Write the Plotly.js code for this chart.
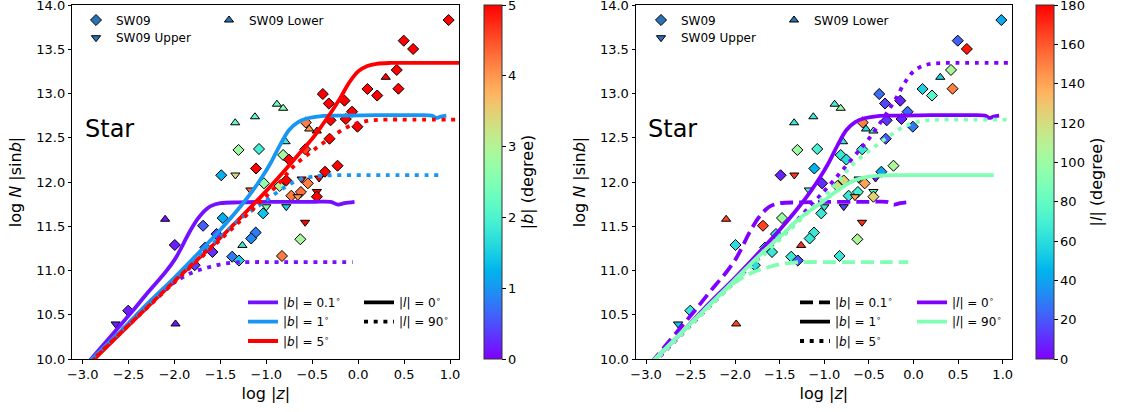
<!DOCTYPE html>
<html>
<head>
<meta charset="utf-8">
<script src="https://cdn.plot.ly/plotly-3.0.1.min.js"></script>
<style>
  html, body { margin: 0; padding: 0; background: #ffffff; }
  #chart { width: 1122px; height: 412px; }
</style>
</head>
<body>
<div id="chart"></div>
<script>
// ---- SW09 star counts: log|z|, log N|sin b|, |b|, |l| and point type ----
const ptLogZ = [0.985,0.496,0.598,0.420,0.30,0.438,0.101,0.207,-0.385,-0.32,
  -0.149,-0.067,-0.301,-0.135,-0.008,-0.312,-0.225,-0.885,-0.817,-1.339,
  -1.124,-1.303,-1.08,-1.491,-1.337,-1.113,-0.57,-0.533,-0.45,-0.576,
  -0.817,-0.754,-0.79,-0.361,-0.616,-0.426,-1.026,-0.855,-0.783,-1.174,
  -0.548,-0.624,-0.728,-0.657,-0.45,-0.45,-1.0,-0.783,-1.035,-1.475,
  -1.689,-1.543,-0.578,-1.116,-1.165,-0.630,-1.261,-1.665,-1.587,-1.372,
  -1.298,-0.830,-1.997,-2.102,-2.504,-2.641,-1.989,-1.78];
const ptLogN = [13.83,13.597,13.503,13.266,13.183,13.054,13.051,12.977,12.994,12.887,
  12.919,12.794,12.697,12.712,12.625,12.489,12.184,12.879,12.833,12.669,
  12.737,12.362,12.373,12.076,12.079,12.153,12.672,12.599,12.576,12.369,
  12.305,12.254,12.455,12.116,12.034,12.045,11.985,11.955,12.017,11.910,
  11.985,11.887,11.845,11.834,11.893,11.834,11.72,11.721,11.646,11.593,
  11.506,11.412,11.545,11.429,11.362,11.353,11.283,11.260,11.209,11.156,
  11.113,11.164,11.288,11.579,10.546,10.396,10.396,11.06];
const ptAbsB = [5,5,5,5,5,5,5,5,5,5,
  5,5,5,5,5,5,5,2.3,2.6,2.2,
  2.2,2.8,1.9,1.2,3.4,5,4.2,4.0,4.8,4.6,
  2.9,5,1.8,5,5,5,2.7,3.0,5,4.4,
  4.2,4.3,4.2,4.0,5,5,2.5,1.5,1.4,1.2,
  0.6,0.3,5,0.8,0.9,2.9,1.8,0.5,0.3,0.8,
  1.5,4.2,0.2,0.1,0.2,0.2,0.1,0.4];
const ptAbsL = [42,22,175,105,55,150,55,75,25,15,
  8,25,12,8,28,20,105,70,100,65,
  65,100,70,8,168,45,150,60,75,65,
  65,60,65,40,60,5,10,120,125,75,
  140,70,65,140,70,125,65,15,65,100,
  165,65,170,65,65,105,170,70,65,65,
  20,65,60,165,65,50,165,60];
// 'D' = SW09, 'v' = SW09 Upper, '^' = SW09 Lower
const ptKind = ['D','D','D','D','^','D','D','D','D','D',
  'D','D','D','D','D','D','D','^','^','^',
  '^','D','D','D','v','D','D','^','^','D',
  'D','D','^','D','v','v','D','D','D','v',
  'D','D','D','v','v','D','v','v','D','D',
  'D','D','v','D','D','D','^','D','D','D',
  'D','D','D','^','D','v','^','D'];

// ---- model curves: log N|sin b| against log|z| ----
const modelX_b01_l0  = [-2.95,-2.8,-2.6,-2.45,-2.3,-2.2,-2.1,-2.0,-1.95,-1.9,-1.85,-1.8,-1.75,-1.7,-1.65,-1.6,-1.5,-1.3,-1.0,-0.5,-0.3,-0.22,-0.15,-0.04];
const modelY_b01_l0  = [9.95,10.13,10.37,10.55,10.74,10.86,10.98,11.12,11.21,11.31,11.41,11.5,11.58,11.645,11.695,11.73,11.76,11.77,11.775,11.775,11.775,11.745,11.76,11.775];
const modelX_b01_l90 = [-2.95,-2.7,-2.5,-2.3,-2.1,-1.95,-1.8,-1.65,-1.5,-1.35,-1.2,-0.8,-0.3,-0.06];
const modelY_b01_l90 = [9.95,10.2,10.4,10.6,10.79,10.9,10.98,11.03,11.07,11.09,11.095,11.095,11.095,11.095];
const modelX_b1_l0   = [-2.95,-2.6,-2.3,-2.0,-1.7,-1.5,-1.3,-1.15,-1.05,-0.95,-0.85,-0.75,-0.65,-0.55,-0.4,-0.2,0.2,0.6,0.8,0.85,0.9,0.96];
const modelY_b1_l0   = [9.95,10.3,10.62,10.92,11.24,11.46,11.7,11.9,12.05,12.22,12.42,12.59,12.68,12.72,12.745,12.75,12.755,12.755,12.75,12.725,12.74,12.75];
const modelX_b1_l90  = [-2.95,-2.6,-2.3,-2.0,-1.7,-1.5,-1.3,-1.1,-1.0,-0.9,-0.8,-0.7,-0.6,-0.5,-0.4,-0.2,0.3,0.9];
const modelY_b1_l90  = [9.95,10.3,10.6,10.9,11.2,11.38,11.57,11.72,11.79,11.87,11.94,12.0,12.04,12.06,12.072,12.078,12.078,12.078];
const modelX_b5_l0   = [-2.92,-2.5,-2.0,-1.5,-1.0,-0.8,-0.6,-0.5,-0.4,-0.3,-0.2,-0.1,0.0,0.1,0.2,0.35,0.6,1.11];
const modelY_b5_l0   = [9.95,10.38,10.88,11.37,11.9,12.13,12.37,12.49,12.63,12.78,12.94,13.12,13.25,13.31,13.335,13.345,13.345,13.345];
const modelX_b5_l90  = [-2.93,-2.5,-2.0,-1.5,-1.0,-0.85,-0.7,-0.5,-0.3,-0.1,0.1,0.3,0.6,1.11];
const modelY_b5_l90  = [9.95,10.38,10.87,11.35,11.84,12.0,12.18,12.35,12.5,12.63,12.69,12.705,12.705,12.705];

const xTicks = [-3.0,-2.5,-2.0,-1.5,-1.0,-0.5,0.0,0.5,1.0];
const yTicks = [10.0,10.5,11.0,11.5,12.0,12.5,13.0,13.5,14.0];
const bBarTicks = [0,1,2,3,4,5];
const lBarTicks = [0,20,40,60,80,100,120,140,160,180];

// ---- styling helpers ----
const FONT = 'DejaVu Sans, Liberation Sans, sans-serif';
function rainbow(t) {
  const r = Math.min(1, Math.abs(2 * t - 0.5));
  const g = Math.max(0, Math.sin(Math.PI * t));
  const b = Math.max(0, Math.cos(Math.PI * t / 2));
  return 'rgb(' + Math.round(r * 255) + ',' + Math.round(g * 255) + ',' + Math.round(b * 255) + ')';
}
const rainbowScale = [];
for (let i = 0; i <= 40; i++) rainbowScale.push([i / 40, rainbow(i / 40)]);
const colB = v => rainbow(v / 5);
const colL = v => rainbow(v / 180);

const symbolOf = { 'D': 'diamond', 'v': 'triangle-down', '^': 'triangle-up' };
const sizeOf = { 'D': 8.5, 'v': 8, '^': 8 };
const symbols = ptKind.map(k => symbolOf[k]);
const sizes = ptKind.map(k => sizeOf[k]);

const DOT = '4px,5.7px';
const DASH = '13px,6px';
const LW = 3.8;

// plot geometry (pixels): margins and colorbar placement
const ML = 72, MR = 110, MT = 5, MB = 53;
const PW = 1122 - ML - MR, PH = 412 - MT - MB;
const px = v => (v - ML) / PW;          // pixel x -> paper x
const py = v => (412 - MB - v) / PH;    // pixel y -> paper y

function cbar(xPix, ticks, title) {
  return {
    x: px(xPix), xanchor: 'left', xref: 'paper',
    y: 0, yanchor: 'bottom', yref: 'paper',
    len: 1, lenmode: 'fraction',
    thickness: 18, thicknessmode: 'pixels',
    xpad: 0, ypad: 0,
    outlinewidth: 1, outlinecolor: '#333',
    ticks: 'outside', ticklen: 3.5, tickwidth: 1, tickcolor: '#000',
    ticklabeloverflow: 'allow',
    tickvals: ticks, tickfont: { family: FONT, size: 13, color: '#000' },
    title: { text: title, side: 'right', font: { family: FONT, size: 16, color: '#000' } }
  };
}

const traces = [];

// scatter points, left panel coloured by |b|
traces.push({
  type: 'scatter', mode: 'markers', x: ptLogZ, y: ptLogN, xaxis: 'x', yaxis: 'y',
  showlegend: false, hoverinfo: 'skip',
  marker: { symbol: symbols, size: sizes, color: ptAbsB, cmin: 0, cmax: 5, opacity: 1,
            colorscale: rainbowScale, showscale: true,
            line: { color: '#000', width: 1 },
            colorbar: cbar(484, bBarTicks, '|<i>b</i>| (degree)') }
});
// scatter points, right panel coloured by |l|
traces.push({
  type: 'scatter', mode: 'markers', x: ptLogZ, y: ptLogN, xaxis: 'x2', yaxis: 'y2',
  showlegend: false, hoverinfo: 'skip',
  marker: { symbol: symbols, size: sizes, color: ptAbsL, cmin: 0, cmax: 180, opacity: 1,
            colorscale: rainbowScale, showscale: true,
            line: { color: '#000', width: 1 },
            colorbar: cbar(1036, lBarTicks, '|<i>l</i>| (degree)') }
});

function curve(x, y, ax, color, dash, name, legend, show) {
  return { type: 'scatter', mode: 'lines', x: x, y: y, xaxis: ax[0], yaxis: ax[1],
           line: { color: color, width: LW, dash: dash, shape: 'spline', smoothing: 1 },
           name: name, legend: legend, showlegend: show, hoverinfo: 'skip' };
}
function blank(ax, color, dash, name, legend) {
  return { type: 'scatter', mode: 'lines', x: [null], y: [null], xaxis: ax[0], yaxis: ax[1],
           line: { color: color, width: LW, dash: dash }, name: name, legend: legend, hoverinfo: 'skip' };
}
const L = ['x', 'y'], R = ['x2', 'y2'];
const deg = v => v + '<sup>∘</sup>';

// left panel: colour = |b|, line style = |l|
traces.push(curve(modelX_b01_l0, modelY_b01_l0, L, colB(0.1), 'solid', '|<i>b</i>| = ' + deg('0.1'), 'legend4', true));
traces.push(curve(modelX_b1_l0,  modelY_b1_l0,  L, colB(1),   'solid', '|<i>b</i>| = ' + deg('1'),   'legend5', true));
traces.push(curve(modelX_b5_l0,  modelY_b5_l0,  L, colB(5),   'solid', '|<i>b</i>| = ' + deg('5'),   'legend6', true));
traces.push(curve(modelX_b01_l90, modelY_b01_l90, L, colB(0.1), DOT, '', 'legend4', false));
traces.push(curve(modelX_b1_l90,  modelY_b1_l90,  L, colB(1),   DOT, '', 'legend4', false));
traces.push(curve(modelX_b5_l90,  modelY_b5_l90,  L, colB(5),   DOT, '', 'legend4', false));
traces.push(blank(L, '#000', 'solid', '|<i>l</i>| = ' + deg('0'), 'legend7'));
traces.push(blank(L, '#000', DOT, '|<i>l</i>| = ' + deg('90'), 'legend8'));

// right panel: colour = |l|, line style = |b|
traces.push(curve(modelX_b01_l0, modelY_b01_l0, R, colL(0), DASH, '', 'legend12', false));
traces.push(curve(modelX_b1_l0,  modelY_b1_l0,  R, colL(0), 'solid', '|<i>l</i>| = ' + deg('0'), 'legend15', true));
traces.push(curve(modelX_b5_l0,  modelY_b5_l0,  R, colL(0), DOT, '', 'legend12', false));
traces.push(curve(modelX_b01_l90, modelY_b01_l90, R, colL(90), DASH, '', 'legend12', false));
traces.push(curve(modelX_b1_l90,  modelY_b1_l90,  R, colL(90), 'solid', '|<i>l</i>| = ' + deg('90'), 'legend16', true));
traces.push(curve(modelX_b5_l90,  modelY_b5_l90,  R, colL(90), DOT, '', 'legend12', false));
traces.push(blank(R, '#000', DASH, '|<i>b</i>| = ' + deg('0.1'), 'legend12'));
traces.push(blank(R, '#000', 'solid', '|<i>b</i>| = ' + deg('1'), 'legend13'));
traces.push(blank(R, '#000', DOT, '|<i>b</i>| = ' + deg('5'), 'legend14'));

// marker-type keys for both panels
const keyColor = '#2b72b4';
function key(name, sym, ax, legend) {
  return { type: 'scatter', mode: 'markers', x: [null], y: [null], xaxis: ax[0], yaxis: ax[1],
           marker: { symbol: sym, size: sym === 'diamond' ? 8.5 : 8, color: keyColor, line: { color: '#000', width: 1 } },
           name: name, legend: legend, hoverinfo: 'skip' };
}
traces.push(key('SW09', 'diamond', L, 'legend'));
traces.push(key('SW09 Upper', 'triangle-down', L, 'legend2'));
traces.push(key('SW09 Lower', 'triangle-up', L, 'legend3'));
traces.push(key('SW09', 'diamond', R, 'legend9'));
traces.push(key('SW09 Upper', 'triangle-down', R, 'legend10'));
traces.push(key('SW09 Lower', 'triangle-up', R, 'legend11'));

function xAxis(domain, anchor) {
  return { domain: domain, anchor: anchor, range: [-3.113, 1.101], tickvals: xTicks, tickformat: '.1f',
           ticks: 'outside', ticklen: 3.5, tickwidth: 1, tickcolor: '#000',
           showline: true, mirror: true, linecolor: '#000', linewidth: 1,
           showgrid: false, zeroline: false, automargin: false, ticklabeloverflow: 'allow',
           tickfont: { family: FONT, size: 13, color: '#000' },
           title: { text: 'log |<i>z</i>|', font: { family: FONT, size: 16, color: '#000' }, standoff: 6 } };
}
function yAxis(anchor) {
  return { domain: [0, 1], anchor: anchor, range: [10, 14], tickvals: yTicks, tickformat: '.1f',
           ticks: 'outside', ticklen: 3.5, tickwidth: 1, tickcolor: '#000',
           showline: true, mirror: true, linecolor: '#000', linewidth: 1,
           showgrid: false, zeroline: false, automargin: false, ticklabeloverflow: 'allow',
           tickfont: { family: FONT, size: 13, color: '#000' },
           title: { text: 'log <i>N</i> |sin<i>b</i>|', font: { family: FONT, size: 16, color: '#000' }, standoff: 10 } };
}
// one legend per row so each entry sits at its own spot;
// a single-entry legend centres its row about 14.5px below its top edge
function legendAt(xPix, rowPix) {
  return { x: px(xPix), y: py(rowPix - 14.5), xanchor: 'left', yanchor: 'top', bgcolor: 'rgba(0,0,0,0)',
           borderwidth: 0, font: { family: FONT, size: 12, color: '#000' } };
}

const layout = {
  width: 1122, height: 412,
  margin: { l: ML, r: MR, t: MT, b: MB },
  paper_bgcolor: '#fff', plot_bgcolor: '#fff',
  font: { family: FONT, color: '#000' },
  hovermode: false,
  xaxis: xAxis([px(72.3), px(459.3)], 'y'),
  yaxis: yAxis('x'),
  xaxis2: xAxis([px(636), px(1011.7)], 'y2'),
  yaxis2: yAxis('x2'),
  legend:   legendAt(76, 20),
  legend2:  legendAt(76, 37.7),
  legend3:  legendAt(209, 20),
  legend4:  legendAt(243, 302.3),
  legend5:  legendAt(243, 321.7),
  legend6:  legendAt(243, 341),
  legend7:  legendAt(359, 302.3),
  legend8:  legendAt(359, 321.7),
  legend9:  legendAt(641, 20),
  legend10: legendAt(641, 37.7),
  legend11: legendAt(774, 20),
  legend12: legendAt(795, 302.3),
  legend13: legendAt(795, 321.7),
  legend14: legendAt(795, 341),
  legend15: legendAt(912, 302.3),
  legend16: legendAt(912, 321.7),
  annotations: [
    { x: -3.0, y: 12.6, xref: 'x', yref: 'y', text: 'Star', showarrow: false, xanchor: 'left', yanchor: 'middle',
      font: { family: FONT, size: 24, color: '#000' } },
    { x: -3.0, y: 12.6, xref: 'x2', yref: 'y2', text: 'Star', showarrow: false, xanchor: 'left', yanchor: 'middle',
      font: { family: FONT, size: 24, color: '#000' } }
  ]
};

Plotly.newPlot('chart', traces, layout, { staticPlot: true, displayModeBar: false });
</script>
</body>
</html>
